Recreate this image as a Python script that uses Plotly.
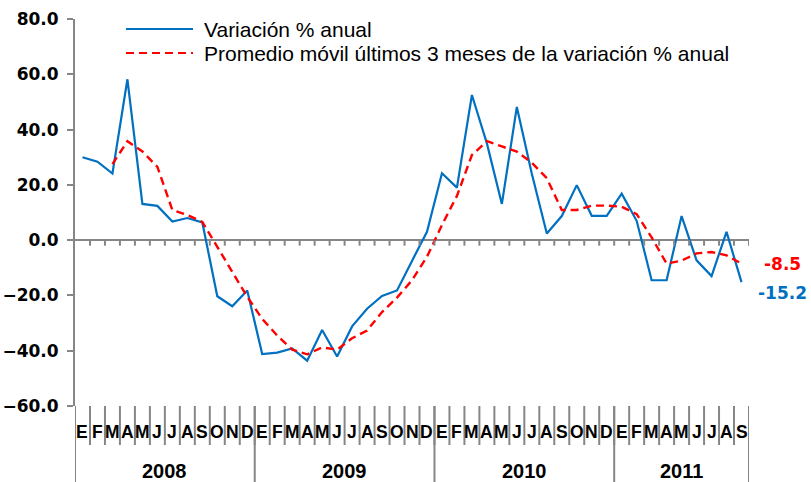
import plotly.graph_objs as go

# Data: Jan 2008 - Sep 2011, annual % variation and 3-month moving average
years = ['2008', '2009', '2010', '2011']
months_per_year = [12, 12, 12, 9]
month_letters = ['E', 'F', 'M', 'A', 'M', 'J', 'J', 'A', 'S', 'O', 'N', 'D']

variacion = [30.0, 28.4, 24.1, 58.2, 13.1, 12.4, 6.7, 8.0, 6.4, -20.3, -23.9, -18.2,
             -41.2, -40.7, -39.2, -43.6, -32.5, -42.1, -31.2, -24.8, -20.2, -18.2, -7.5, 3.0,
             24.2, 19.0, 52.5, 35.0, 13.1, 48.2, 24.0, 2.4, 8.7, 19.9, 8.8, 8.8,
             16.8, 7.0, -14.5, -14.5, 8.7, -7.3, -13.0, 3.0, -15.2]

promedio = [None, None, 27.5, 35.8, 32.1, 26.5, 10.9, 9.1, 6.6, -2.5, -11.5, -20.5,
            -28.5, -34.5, -39.6, -41.3, -38.8, -39.6, -35.5, -32.7, -26.0, -20.8, -14.5, -6.0,
            5.5, 16.0, 30.8, 35.8, 33.9, 32.0, 28.0, 22.4, 10.9, 10.9, 12.5, 12.5,
            12.1, 9.4, 1.0, -8.5, -7.4, -4.8, -4.3, -5.5, -8.5]

name_var = 'Variación % anual'
name_prom = 'Promedio móvil últimos 3 meses de la variación % anual'

BLUE = '#0070C0'
RED = '#FF0000'
GRAY = '#868686'

W, H = 811, 482
# plot area in pixels
X0, X1, Y0, Y1 = 75, 749, 19, 406
L, T = X0, Y0
R = W - X1
B = H - Y1


def py(pix):
    # pixel row -> paper y
    return (Y1 - pix) / (Y1 - Y0)


def px(pix):
    return (pix - X0) / (X1 - X0)


n = len(variacion)
xs = [i + 0.5 for i in range(n)]

fig = go.Figure()

fig.add_trace(go.Scatter(x=xs, y=variacion, mode='lines', name=name_var,
                         line=dict(color=BLUE, width=2.2), showlegend=False))
fig.add_trace(go.Scatter(x=xs, y=promedio, mode='lines', name=name_prom,
                         line=dict(color=RED, width=2.4, dash='8px,5px'), showlegend=False))

shapes = []
annotations = []

# ticks on the zero line
for k in range(1, n + 1):
    shapes.append(dict(type='line', xref='x', yref='y', x0=k, x1=k, y0=0, y1=-2.0,
                       line=dict(color=GRAY, width=2)))

# month separators below plot
for k in range(0, n + 1):
    shapes.append(dict(type='line', xref='x', yref='paper', x0=k, x1=k, y0=0, y1=py(445),
                       line=dict(color=GRAY, width=2)))

# year separators
start = 0
bounds = [0]
for cnt in months_per_year:
    start += cnt
    bounds.append(start)
for b in bounds:
    shapes.append(dict(type='line', xref='x', yref='paper', x0=b, x1=b, y0=0, y1=py(482),
                       line=dict(color=GRAY, width=2)))

# month letters
for i in range(n):
    annotations.append(dict(x=i + 0.5, y=py(432), xref='x', yref='paper',
                            text=month_letters[i % 12], showarrow=False,
                            xanchor='center', yanchor='middle',
                            font=dict(family='Liberation Sans', size=17.5, color='black', weight='bold')))

# year labels
for y_lab, b0, b1 in zip(years, bounds[:-1], bounds[1:]):
    annotations.append(dict(x=(b0 + b1) / 2, y=py(471), xref='x', yref='paper',
                            text=y_lab, showarrow=False, xanchor='center', yanchor='middle',
                            font=dict(family='Liberation Sans', size=20, color='black', weight='bold')))

# end labels
annotations.append(dict(x=xs[-1], y=promedio[-1], xref='x', yref='y',
                        text=f'{promedio[-1]:.1f}', showarrow=False, xanchor='left', yanchor='middle',
                        xshift=20, yshift=0,
                        font=dict(family='DejaVu Sans', size=17, color=RED, weight='bold')))
annotations.append(dict(x=xs[-1], y=variacion[-1], xref='x', yref='y',
                        text=f'{variacion[-1]:.1f}', showarrow=False, xanchor='left', yanchor='middle',
                        xshift=14, yshift=-11,
                        font=dict(family='DejaVu Sans', size=17, color=BLUE, weight='bold')))

# manual legend
legend_items = [(name_var, BLUE, 'solid', 29), (name_prom, RED, '8px,5px', 53)]
for text, color, dash, row in legend_items:
    shapes.append(dict(type='line', xref='paper', yref='paper', x0=px(126), x1=px(193),
                       y0=py(row), y1=py(row), line=dict(color=color, width=2.2, dash=dash)))
    annotations.append(dict(x=px(202), y=py(row), xref='paper', yref='paper', text=text,
                            showarrow=False, xanchor='left', yanchor='middle',
                            font=dict(family='Liberation Sans', size=21, color='black')))

fig.update_layout(
    width=W, height=H,
    margin=dict(l=L, r=R, t=T, b=B),
    paper_bgcolor='white', plot_bgcolor='white',
    shapes=shapes, annotations=annotations,
    xaxis=dict(range=[0, n], showgrid=False, zeroline=False, showline=False,
               showticklabels=False, ticks='', automargin=False),
    yaxis=dict(range=[-60, 80], dtick=20, tick0=0, tickformat='.1f', showgrid=False,
               showline=True, linecolor=GRAY, linewidth=2, automargin=False,
               ticks='outside', ticklen=6, tickwidth=2, tickcolor=GRAY,
               zeroline=True, zerolinecolor=GRAY, zerolinewidth=2,
               ticklabelstandoff=5,
               tickfont=dict(family='DejaVu Sans', size=17, color='black', weight='bold')),
)

# drop the default page margin so the figure sits at the window's top-left corner
fig.write_html('out.html', config={'displayModeBar': False},
               post_script="document.body.style.margin='0';document.body.style.overflow='hidden';")
